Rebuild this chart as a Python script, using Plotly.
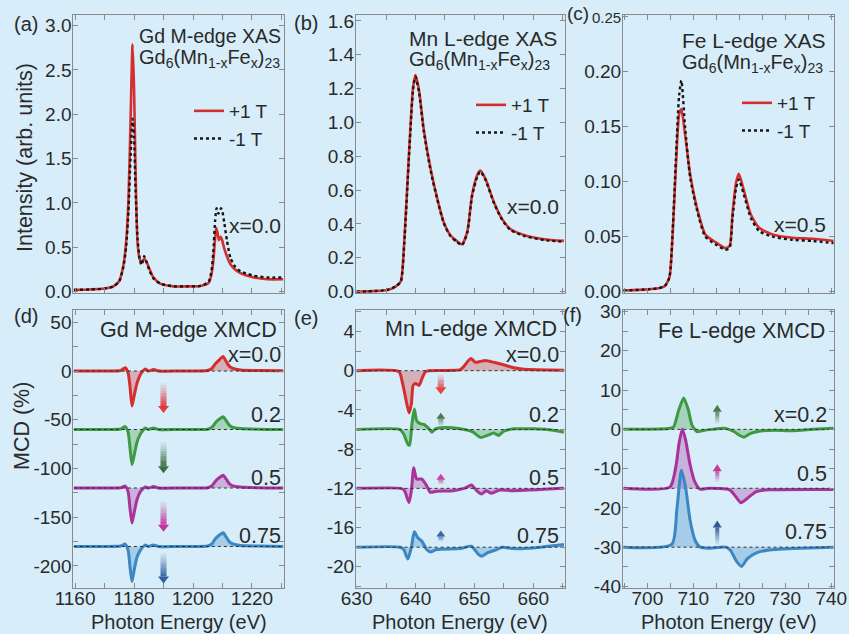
import plotly.graph_objects as go

# ======================= DATA =======================
# (a) Gd M-edge XAS, Gd6(Mn1-xFex)23, x = 0.0
gd_xas_E_plus = [1159.6, 1165.0, 1170.0, 1173.0, 1175.0, 1176.4, 1177.3, 1178.1, 1178.8, 1179.5,
                 1180.0, 1180.5, 1181.2, 1182.0, 1182.8, 1183.5, 1184.3, 1185.2, 1186.6, 1188.9,
                 1193.4, 1198.0, 1202.5, 1205.3, 1206.3, 1206.9, 1207.5, 1207.9, 1208.4, 1208.8,
                 1209.4, 1209.9, 1210.5, 1211.5, 1212.7, 1214.3, 1216.1, 1218.5, 1220.6, 1225.2, 1230.6]
gd_xas_plus = [0.02, 0.025, 0.035, 0.06, 0.12, 0.30, 0.55, 1.03, 1.90, 2.79,
               2.30, 1.40, 0.55, 0.36, 0.34, 0.37, 0.33, 0.26, 0.16, 0.09,
               0.06, 0.06, 0.065, 0.10, 0.20, 0.35, 0.60, 0.72, 0.65, 0.58,
               0.62, 0.58, 0.50, 0.40, 0.31, 0.25, 0.21, 0.18, 0.16, 0.14, 0.14]
gd_xas_E_minus = [1159.6, 1165.0, 1170.0, 1173.0, 1175.0, 1176.4, 1177.3, 1178.1, 1178.8, 1179.5,
                  1180.0, 1180.5, 1181.2, 1182.0, 1182.6, 1183.4, 1184.3, 1185.2, 1186.6, 1188.9,
                  1193.4, 1198.0, 1202.5, 1205.3, 1206.3, 1206.9, 1207.5, 1208.0, 1208.6, 1209.0,
                  1209.5, 1210.0, 1210.6, 1211.5, 1212.7, 1214.3, 1216.1, 1218.5, 1220.6, 1225.2, 1230.6]
gd_xas_minus = [0.02, 0.025, 0.035, 0.06, 0.12, 0.28, 0.50, 0.90, 1.50, 1.95,
                1.75, 1.15, 0.60, 0.35, 0.30, 0.40, 0.33, 0.24, 0.15, 0.09,
                0.06, 0.06, 0.065, 0.11, 0.24, 0.45, 0.80, 0.94, 0.88, 0.90,
                0.94, 0.90, 0.78, 0.58, 0.38, 0.28, 0.23, 0.20, 0.18, 0.16, 0.16]

# (b) Mn L-edge XAS, x = 0.0
mn_xas_E = [630.0, 635.2, 636.6, 637.5, 638.1, 638.9, 639.6, 640.0, 640.6, 641.4,
            642.6, 643.7, 644.8, 645.9, 647.0, 647.9, 648.8, 649.6, 650.5, 651.0,
            651.9, 653.3, 654.7, 656.1, 658.4, 661.8, 665.2]
mn_xas_plus = [0.0, 0.01, 0.03, 0.06, 0.30, 0.82, 1.21, 1.28, 1.19, 0.96,
               0.72, 0.55, 0.41, 0.335, 0.30, 0.28, 0.355, 0.57, 0.69, 0.715,
               0.665, 0.53, 0.43, 0.37, 0.335, 0.31, 0.30]
mn_xas_minus = [0.0, 0.01, 0.03, 0.06, 0.29, 0.80, 1.20, 1.27, 1.18, 0.95,
                0.71, 0.545, 0.405, 0.33, 0.295, 0.275, 0.35, 0.565, 0.68, 0.71,
                0.66, 0.525, 0.425, 0.365, 0.33, 0.305, 0.295]

# (c) Fe L-edge XAS, x = 0.5
fe_xas_E = [694.8, 700.0, 702.4, 703.8, 704.8, 705.5, 706.2, 706.9, 707.4, 708.2,
            709.3, 710.8, 712.6, 714.8, 717.0, 717.9, 718.5, 719.3, 719.9, 721.0,
            722.5, 724.3, 727.2, 731.6, 736.0, 740.5]
fe_xas_plus = [0.001, 0.002, 0.003, 0.005, 0.013, 0.052, 0.113, 0.161, 0.166, 0.143,
               0.107, 0.076, 0.052, 0.045, 0.0395, 0.0416, 0.070, 0.099, 0.107, 0.092,
               0.070, 0.058, 0.052, 0.049, 0.048, 0.046]
fe_xas_minus = [0.001, 0.002, 0.003, 0.005, 0.013, 0.055, 0.120, 0.178, 0.192, 0.150,
                0.104, 0.074, 0.050, 0.043, 0.038, 0.040, 0.066, 0.094, 0.102, 0.088,
                0.067, 0.055, 0.050, 0.047, 0.046, 0.044]

# (d) Gd M-edge XMCD (%), x = 0.0, 0.2, 0.5, 0.75
gd_mcd_E = [1159.6, 1170.0, 1175.5, 1177.0, 1178.0, 1178.6, 1179.3, 1180.0, 1181.0, 1182.1,
            1183.0, 1183.8, 1184.9, 1186.6, 1188.3, 1195.0, 1205.0, 1206.5, 1207.6, 1209.1,
            1210.2, 1211.3, 1212.3, 1213.3, 1216.1, 1222.0, 1230.6]
gd_mcd_x00 = [0, 0, 0.5, 3.4, -2, -15, -36, -26, -12.6, -4, 0, 2, 0, 1.5, 0, 0, 0.5, 3, 7.5, 12, 15, 9.5, 5, 3, 1, 0.5, 0.3]
gd_mcd_x02 = [0, 0, 0.5, 3, -3, -18, -36, -27, -13, -5, -1, 1.5, 0, 1.5, 0, 0, 0.3, 2.5, 7, 11, 13, 9, 4.5, 2.5, 1, 0.3, 0]
gd_mcd_x05 = [0, 0, 0.3, 2, -4, -20, -36, -26, -12, -4, -1, 1, 0, 1.5, 0, 0, 0.3, 2.5, 7, 11, 13, 9, 4.5, 2.5, 1, 0.3, 0]
gd_mcd_x075 = [0, 0, 0.5, 2.5, -4, -20, -36, -25, -11, -4, -0.5, 1.5, 0, 1.5, 0, 0, 0.5, 3, 8, 12, 14, 9.5, 5, 3, 1, 0.5, 0]
gd_offsets = [0, -60, -120, -180]

# (e) Mn L-edge XMCD (%)
mn_mcd_E_x00 = [630.0, 637.2, 637.7, 638.3, 638.9, 639.3, 639.6, 640.0, 640.6, 641.1, 641.7, 642.3,
                647.6, 648.3, 648.8, 649.4, 650.2, 651.0, 651.9, 653.3, 655.0, 656.7, 658.4, 665.2]
mn_mcd_x00 = [0, -0.1, -1.0, -2.7, -4.3, -3.4, -1.5, -1.3, -1.5, -0.8, -0.1, 0,
              0.1, 0.5, 0.9, 1.25, 0.85, 0.95, 1.05, 0.85, 0.6, 0.3, 0.15, 0.05]
mn_mcd_E_x02 = [630.0, 637.4, 638.0, 638.7, 639.0, 639.4, 639.8, 640.2, 640.8, 641.5, 642.3, 642.8,
                643.4, 644.8, 647.6, 649.8, 651.0, 652.2, 653.3, 654.1, 655.0, 656.7, 660.1, 662.3, 665.2]
mn_mcd_x02 = [0, 0, -0.45, -1.5, -1.6, 0.6, 2.1, 0.9, 0.6, 0.5, 0.07, -0.27,
              0.07, 0.2, 0.07, -0.27, -0.8, -0.6, -0.35, -0.6, -0.17, 0.07, 0.07, 0, -0.27]
mn_mcd_E_x05 = [630.0, 637.5, 638.1, 638.9, 639.3, 639.7, 640.2, 641.1, 641.9, 642.5, 643.6,
                646.4, 648.4, 649.5, 650.4, 651.2, 652.0, 652.9, 654.3, 656.6, 665.2]
mn_mcd_x05 = [0, 0, -0.2, -1.45, -0.24, 2.1, 0.95, 0.95, 0.27, -0.4, -0.3,
              -0.24, 0.03, 0.34, -0.24, -0.58, -0.24, -0.5, -0.17, -0.24, 0]
mn_mcd_E_x075 = [630.0, 637.4, 638.0, 638.7, 639.3, 639.8, 640.4, 641.1, 641.9, 642.5, 643.6,
                 647.6, 649.5, 650.7, 651.3, 652.2, 653.8, 654.7, 656.7, 660.1, 665.2]
mn_mcd_x075 = [0, 0, -0.24, -1.2, 0, 1.57, 0.96, 0.6, -0.24, -0.48, -0.24,
               -0.14, 0.1, -0.75, -0.92, -0.58, -0.24, 0, -0.14, -0.07, 0.27]
mn_offsets = [0, -6, -12, -18]

# (f) Fe L-edge XMCD (%), x = 0.2, 0.5, 0.75
fe_mcd_E_x02 = [694.8, 704.6, 705.7, 706.8, 707.9, 708.9, 709.7, 710.8, 711.9, 714.1,
                717.0, 718.9, 720.0, 721.0, 722.5, 725.1, 727.9, 731.6, 736.0, 740.5]
fe_mcd_x02 = [0, 0.2, 0.6, 4.8, 8.0, 5.0, 1.1, -0.6, -0.35, 0,
              0.25, -0.6, -1.5, -2.0, -1.0, -0.35, -0.2, -0.34, 0, 0.3]
fe_mcd_E_x05 = [694.8, 704.9, 706.2, 706.9, 707.6, 708.3, 709.3, 710.3, 711.5, 713.3,
                717.9, 719.2, 720.4, 721.7, 723.6, 726.5, 740.5]
fe_mcd_x05 = [0, 0.3, 5.5, 11.5, 15.1, 12.4, 6.0, 1.7, -0.25, 0,
              -0.4, -2.1, -3.7, -2.6, -0.9, -0.4, -0.3]
fe_mcd_E_x075 = [694.8, 705.3, 706.4, 707.4, 708.3, 709.3, 710.4, 711.5, 713.3, 717.0,
                 718.1, 719.3, 720.5, 721.7, 723.6, 726.5, 731.6, 740.5]
fe_mcd_x075 = [0, 0.7, 9.4, 19.6, 15.4, 6.8, 1.7, 0, -0.25, 0,
               -0.85, -3.4, -4.9, -3.0, -1.5, -0.7, -0.35, 0]
fe_offsets = [0, -15, -30]

# composition labels
gd_labels = ["x=0.0", "0.2", "0.5", "0.75"]
mn_labels = ["x=0.0", "0.2", "0.5", "0.75"]
fe_labels = ["x=0.2", "0.5", "0.75"]

# tick labels
gd_xticks = [1160, 1180, 1200, 1220]
mn_xticks = [630, 640, 650, 660]
fe_xticks = [700, 710, 720, 730, 740]
a_yticks = [0.0, 0.5, 1.0, 1.5, 2.0, 2.5, 3.0]
a_yticktext = ["0.0", "0.5", "1.0", "1.5", "2.0", "2.5", "3.0"]
b_yticks = [0.0, 0.2, 0.4, 0.6, 0.8, 1.0, 1.2, 1.4, 1.6]
b_yticktext = ["0.0", "0.2", "0.4", "0.6", "0.8", "1.0", "1.2", "1.4", "1.6"]
c_yticks = [0.0, 0.05, 0.10, 0.15, 0.20, 0.25]
c_yticktext = ["0.00", "0.05", "0.10", "0.15", "0.20", '<span style="font-size:15px">0.25</span>']
d_yticks = [50, 0, -50, -100, -150, -200]
d_yticktext = ["50", "0", "-50", "-100", "-150", "-200"]
e_yticks = [4, 0, -4, -8, -12, -16, -20]
e_yticktext = ["4", "0", "-4", "-8", "-12", "-16", "-20"]
f_yticks = [30, 20, 10, 0, -10, -20, -30, -40]
f_yticktext = ["30", "20", "10", "0", "-10", "-20", "-30", "-40"]

# ======================= STYLE / LAYOUT =======================
W, H = 849, 634
BG = '#d7edf9'
FONT = 'Liberation Sans, Arial, sans-serif'
TXT = '#2a2a2a'
AX = '#8a8a8a'
RED = '#d42f2f'
GREEN = '#3d9a40'
MAG = '#a8339a'
BLUE = '#3b87c3'


def rgba(hexc, a):
    h = hexc.lstrip('#')
    r, g, b = int(h[0:2], 16), int(h[2:4], 16), int(h[4:6], 16)
    return f'rgba({r},{g},{b},{a})'


# pixel boxes of panels: (left, right, top, bottom)
boxes = {
    1: (73.3, 283.8, 15, 293), 2: (356, 564.5, 15, 293), 3: (623, 834, 15, 293),
    4: (73.3, 283.8, 310, 588), 5: (356, 564.5, 310, 588), 6: (623, 834, 310, 588),
}
xranges = {1: [1159.4, 1230.8], 2: [629.9, 665.3], 3: [694.7, 740.6]}
xranges[4], xranges[5], xranges[6] = xranges[1], xranges[2], xranges[3]
yranges = {1: [-0.015, 3.12], 2: [-0.008, 1.635], 3: [-0.0013, 0.2515],
           4: [-222.6, 62.6], 5: [-22.16, 6.19], 6: [-40.4, 30.4]}

fig = go.Figure()

def ax_names(i):
    return ('x' if i == 1 else f'x{i}'), ('y' if i == 1 else f'y{i}')

# ---------- XAS traces ----------
xas = [
    (1, gd_xas_E_plus, gd_xas_plus, gd_xas_E_minus, gd_xas_minus, 'legend'),
    (2, mn_xas_E, mn_xas_plus, mn_xas_E, mn_xas_minus, 'legend2'),
    (3, fe_xas_E, fe_xas_plus, fe_xas_E, fe_xas_minus, 'legend3'),
]
for i, ep, yp, em, ym, lg in xas:
    xa, ya = ax_names(i)
    fig.add_trace(go.Scatter(x=ep, y=yp, xaxis=xa, yaxis=ya, mode='lines', name='+1 T',
                             line=dict(color=RED, width=2.6, shape='spline', smoothing=0.6),
                             legend=lg, showlegend=True))
    fig.add_trace(go.Scatter(x=em, y=ym, xaxis=xa, yaxis=ya, mode='lines', name='-1 T',
                             line=dict(color='#151515', width=2.4, dash='dot', shape='spline', smoothing=0.6),
                             legend=lg, showlegend=True))

# ---------- XMCD traces ----------
mcd = [
    (4, [gd_mcd_E] * 4, [gd_mcd_x00, gd_mcd_x02, gd_mcd_x05, gd_mcd_x075], gd_offsets, [RED, GREEN, MAG, BLUE]),
    (5, [mn_mcd_E_x00, mn_mcd_E_x02, mn_mcd_E_x05, mn_mcd_E_x075],
     [mn_mcd_x00, mn_mcd_x02, mn_mcd_x05, mn_mcd_x075], mn_offsets, [RED, GREEN, MAG, BLUE]),
    (6, [fe_mcd_E_x02, fe_mcd_E_x05, fe_mcd_E_x075], [fe_mcd_x02, fe_mcd_x05, fe_mcd_x075],
     fe_offsets, [GREEN, MAG, BLUE]),
]
for i, Es, Vs, offs, cols in mcd:
    xa, ya = ax_names(i)
    for E, V, off, c in zip(Es, Vs, offs, cols):
        base_x = [E[0], E[-1]]
        base_y = [off, off]
        fig.add_trace(go.Scatter(x=base_x, y=base_y, xaxis=xa, yaxis=ya, mode='lines',
                                 line=dict(width=0, color=c), showlegend=False, hoverinfo='skip'))
        fig.add_trace(go.Scatter(x=E, y=[v + off for v in V], xaxis=xa, yaxis=ya, mode='lines',
                                 fill='tonexty', fillcolor=rgba(c, 0.32),
                                 line=dict(color=c, width=3, shape='spline', smoothing=0.6),
                                 showlegend=False))
        fig.add_trace(go.Scatter(x=base_x, y=base_y, xaxis=xa, yaxis=ya, mode='lines',
                                 line=dict(color='#303030', width=1, dash='3px,3px'),
                                 showlegend=False, hoverinfo='skip'))

# ---------- axes ----------
layout = dict(width=W, height=H, margin=dict(l=0, r=0, t=0, b=0, autoexpand=False),
              paper_bgcolor=BG, plot_bgcolor=BG, showlegend=True,
              font=dict(family=FONT, size=19, color=TXT))
xt = {1: gd_xticks, 2: mn_xticks, 3: fe_xticks}
xminor = {1: 10, 2: 5, 3: 5}
ytv = {1: a_yticks, 2: b_yticks, 3: c_yticks, 4: d_yticks, 5: e_yticks, 6: f_yticks}
ytt = {1: a_yticktext, 2: b_yticktext, 3: c_yticktext, 4: d_yticktext, 5: e_yticktext, 6: f_yticktext}
yminor = {1: None, 2: None, 3: None, 4: 25, 5: 2, 6: 5}
common = dict(showline=True, linecolor=AX, linewidth=1, mirror='allticks', ticks='inside',
              ticklen=5, tickwidth=1, tickcolor=AX, showgrid=False, zeroline=False, automargin=False,
              tickfont=dict(family=FONT, size=19, color=TXT))
for i in range(1, 7):
    l, r, t, b = boxes[i]
    xk = 'xaxis' if i == 1 else f'xaxis{i}'
    yk = 'yaxis' if i == 1 else f'yaxis{i}'
    xa, ya = ax_names(i)
    col = (i - 1) % 3 + 1
    xd = dict(common, domain=[l / W, r / W], range=xranges[i], anchor=ya,
              tickvals=xt[col], ticktext=[str(v) for v in xt[col]],
              showticklabels=(i >= 4), ticklabelstandoff=-7,
              minor=dict(ticks='inside', ticklen=5, tickcolor=AX, dtick=xminor[col], tick0=xt[col][0]))
    yd = dict(common, domain=[1 - b / H, 1 - t / H], range=yranges[i], anchor=xa,
              tickvals=ytv[i], ticktext=ytt[i], ticklabelstandoff=-3)
    if yminor[i]:
        yd['minor'] = dict(ticks='inside', ticklen=5, tickcolor=AX, dtick=yminor[i], tick0=0)
    layout[xk] = xd
    layout[yk] = yd

# legends
leg_pos = {'legend': (189, 92), 'legend2': (471, 86), 'legend3': (737, 84)}
for k, (px, py) in leg_pos.items():
    layout[k] = dict(x=px / W, y=1 - py / H, xanchor='left', yanchor='top', xref='paper', yref='paper',
                     bgcolor='rgba(0,0,0,0)', font=dict(family=FONT, size=19, color=TXT),
                     itemwidth=30, tracegroupgap=0, traceorder='normal')

# ---------- annotations ----------
ann = []
def txt(px, py, s, size=19, xanchor='left', yanchor='middle', angle=0):
    ann.append(dict(x=px / W, y=1 - py / H, xref='paper', yref='paper', text=s, showarrow=False,
                    xanchor=xanchor, yanchor=yanchor, textangle=angle,
                    font=dict(family=FONT, size=size, color=TXT)))

formula = 'Gd<sub>6</sub>(Mn<sub>1-x</sub>Fe<sub>x</sub>)<sub>23</sub>'
# panel letters
txt(12, 24, '(a)', 20); txt(292, 23, '(b)', 20); txt(565, 14, '(c)', 19)
txt(12, 316, '(d)', 20); txt(292, 318, '(e)', 20); txt(561, 315, '(f)', 20)
# XAS titles
txt(137, 36, 'Gd M-edge XAS', 19.5); txt(137, 59, formula, 20)
txt(407, 39, 'Mn L-edge XAS', 21); txt(407, 61, formula, 20)
txt(680, 40, 'Fe L-edge XAS', 21); txt(680, 63, formula, 20)
txt(283, 225, 'x=0.0', 21, xanchor='right'); txt(561, 207, 'x=0.0', 21, xanchor='right')
txt(828, 224, 'x=0.5', 21, xanchor='right')
# XMCD titles
txt(279, 330, 'Gd M-edge XMCD', 21.5, xanchor='right')
txt(559, 329, 'Mn L-edge XMCD', 21.5, xanchor='right')
txt(827, 331, 'Fe L-edge XMCD', 21.5, xanchor='right')
for s, py in zip(gd_labels, [355, 415, 478, 536]):
    txt(283, py, s, 21.5, xanchor='right')
for s, py in zip(mn_labels, [355, 415, 478, 536]):
    txt(561, py, s, 21.5, xanchor='right')
for s, py in zip(fe_labels, [415, 474, 532]):
    txt(829, py, s, 21.5, xanchor='right')
# axis titles
txt(25, 158, 'Intensity (arb. units)', 21.5, xanchor='center', angle=-90)
txt(22, 426, 'MCD (%)', 21.5, xanchor='center', angle=-90)
for cx in [(73.3 + 283.8) / 2, (356 + 564.5) / 2, (623 + 834) / 2]:
    txt(cx, 621.5, 'Photon Energy (eV)', 20, xanchor='center')
layout['annotations'] = ann

# ---------- gradient arrows (direction of change with x) ----------
shapes = []
def arrow(i, x, y_tail, y_tip, color, shaft_w, head_w, head_len_px):
    xa, ya = ax_names(i)
    l, r, t, b = boxes[i]
    ppu = (b - t) / (yranges[i][1] - yranges[i][0])
    d = 1 if y_tip > y_tail else -1
    y_hb = y_tip - d * head_len_px / ppu
    N = 14
    for k in range(N):
        y0 = y_tail + (y_hb - y_tail) * k / N
        y1 = y_tail + (y_hb - y_tail) * min(k + 1.15, N) / N
        a = 0.06 + 0.94 * ((k + 0.5) / N) ** 1.3
        shapes.append(dict(type='rect', xref=xa, yref=ya, xsizemode='pixel', xanchor=x,
                           x0=-shaft_w / 2, x1=shaft_w / 2, y0=y0, y1=y1,
                           fillcolor=rgba(color, a), line=dict(width=0), layer='above'))
    shapes.append(dict(type='path', xref=xa, yref=ya, xsizemode='pixel', xanchor=x,
                       path=f'M{-head_w / 2},{y_hb} L{head_w / 2},{y_hb} L0,{y_tip} Z',
                       fillcolor=color, line=dict(width=0), layer='above'))

gd_arrows = [(-12.6, -43, '#e03a3c'), (-73.4, -104.8, '#3e6c40'), (-133.9, -165, '#c4349a'), (-186.8, -218, '#34609f')]
for y0, y1, c in gd_arrows:
    arrow(4, 1190, y0, y1, c, 6, 11, 7)
mn_arrows = [(-0.4, -2.4, '#e04444', 6, 11, 7), (-5.6, -4.3, '#4b7a4e', 5, 9, 6),
             (-11.6, -10.5, '#c8429e', 5, 9, 6), (-17.4, -16.3, '#3a6aa6', 5, 9, 6)]
for y0, y1, c, sw, hw, hl in mn_arrows:
    arrow(5, 644.3, y0, y1, c, sw, hw, hl)
fe_arrows = [(1.4, 6.3, '#4c7a4c'), (-13.4, -8.9, '#c43a98'), (-29.4, -23.2, '#34598f')]
for y0, y1, c in fe_arrows:
    arrow(6, 715.2, y0, y1, c, 4, 9, 7)
layout['shapes'] = shapes

fig.update_layout(**layout)
fig.write_html('out.html')
